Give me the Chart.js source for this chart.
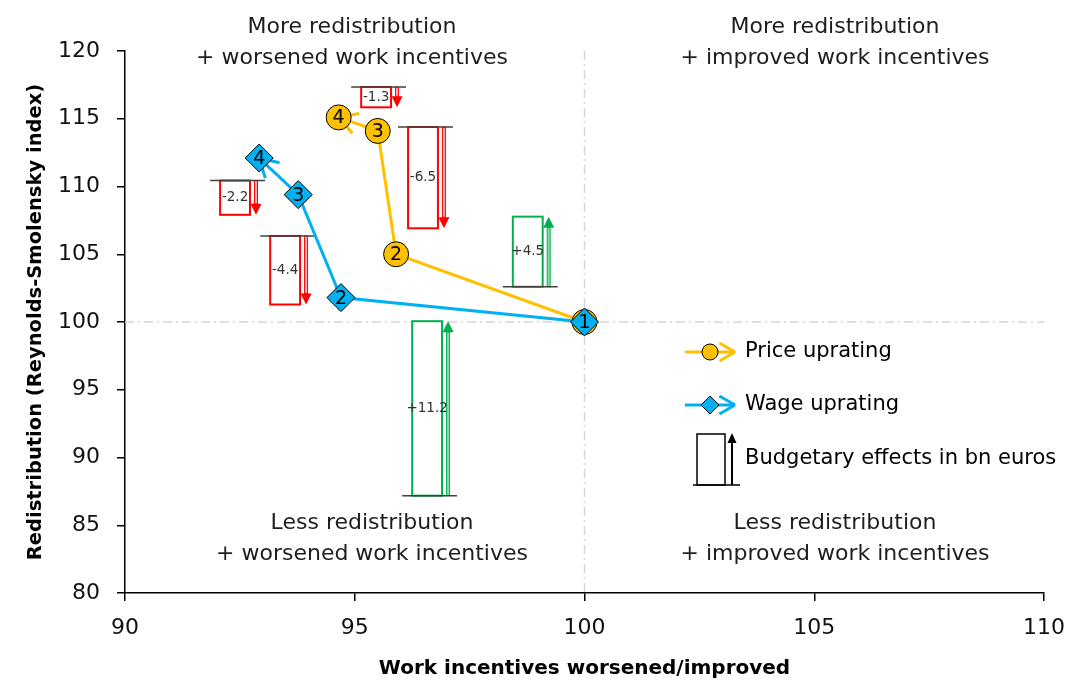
<!DOCTYPE html>
<html>
<head>
<meta charset="utf-8">
<script src="https://cdn.jsdelivr.net/npm/chart.js"></script>
<style>
  body { margin: 0; background: #fff; }
  #caja { width: 1067px; height: 682px; }
</style>
</head>
<body>
<div id="caja"><canvas id="grafico"></canvas></div>
<script>
// steps 1..4 of each uprating path
const stepLabels = ['1', '2', '3', '4'];
const priceX = [100, 95.9, 95.5, 94.65];
const priceY = [100, 105.0, 114.1, 115.1];
const wageX = [100, 94.7, 93.77, 92.92];
const wageY = [100, 101.8, 109.4, 112.1];

// budgetary effects (bn euros), box left edge (x) and base line (y)
const budgetValues = [-1.3, -6.5, -2.2, -4.4, 4.5, 11.2];
const budgetX = [95.14, 96.16, 92.07, 93.16, 98.44, 96.25];
const budgetBase = [117.34, 114.39, 110.44, 106.35, 102.6, 87.18];
const bnToIndex = 1.15;   // index points per bn euros
const boxWidth = 0.65;

const xTicks = [90, 95, 100, 105, 110];
const yTicks = [80, 85, 90, 95, 100, 105, 110, 115, 120];

const quadrantTexts = [
    { x: 352, y: 27, lines: ['More redistribution', '+ worsened work incentives'] },
    { x: 835, y: 27, lines: ['More redistribution', '+ improved work incentives'] },
    { x: 372, y: 523, lines: ['Less redistribution', '+ worsened work incentives'] },
    { x: 835, y: 523, lines: ['Less redistribution', '+ improved work incentives'] }
];

const gold = '#ffc000';
const blue = '#00b0f0';
const fuente = 'DejaVu Sans';

function chevron(ctx, tipX, tipY, backX, backY, largo, color, ancho) {
    const dx = backX - tipX, dy = backY - tipY;
    const len = Math.hypot(dx, dy);
    const ux = dx / len, uy = dy / len;
    const ang = Math.PI / 6;
    ctx.save();
    ctx.strokeStyle = color;
    ctx.lineWidth = ancho;
    ctx.beginPath();
    [ang, -ang].forEach(a => {
        const rx = ux * Math.cos(a) - uy * Math.sin(a);
        const ry = ux * Math.sin(a) + uy * Math.cos(a);
        ctx.moveTo(tipX, tipY);
        ctx.lineTo(tipX + rx * largo, tipY + ry * largo);
    });
    ctx.stroke();
    ctx.restore();
}

function budgetArrow(ctx, ax, base, end, color, light) {
    const dir = Math.sign(end - base);
    const headLen = 11;
    ctx.save();
    ctx.fillStyle = light;
    ctx.strokeStyle = color;
    ctx.lineWidth = 1;
    const shaftEnd = end - dir * headLen;
    ctx.fillRect(ax - 1.5, Math.min(base, shaftEnd), 3, Math.abs(shaftEnd - base));
    ctx.strokeRect(ax - 1.5, Math.min(base, shaftEnd), 3, Math.abs(shaftEnd - base));
    ctx.fillStyle = color;
    ctx.beginPath();
    ctx.moveTo(ax, end);
    ctx.lineTo(ax - 5.5, shaftEnd);
    ctx.lineTo(ax + 5.5, shaftEnd);
    ctx.closePath();
    ctx.fill();
    ctx.restore();
}

const dibujos = {
    id: 'dibujos',
    beforeDatasetsDraw(chart) {
        const { ctx, chartArea, scales: { x, y } } = chart;

        // cruz en 100 / 100
        ctx.save();
        ctx.strokeStyle = '#d6d6d6';
        ctx.lineWidth = 1.5;
        ctx.setLineDash([9, 4, 2, 4]);
        const x100 = x.getPixelForValue(100);
        const y100 = y.getPixelForValue(100);
        ctx.beginPath();
        ctx.moveTo(chartArea.left, y100);
        ctx.lineTo(chartArea.right, y100);
        ctx.moveTo(x100, chartArea.top);
        ctx.lineTo(x100, chartArea.bottom);
        ctx.stroke();
        ctx.restore();

        // cajas de efectos presupuestarios
        budgetValues.forEach((v, i) => {
            const left = x.getPixelForValue(budgetX[i]);
            const right = x.getPixelForValue(budgetX[i] + boxWidth);
            const base = y.getPixelForValue(budgetBase[i]);
            const end = y.getPixelForValue(budgetBase[i] + v * bnToIndex);
            const color = v < 0 ? '#ff0000' : '#00b050';
            const light = v < 0 ? '#ffb0b0' : '#8fd9a8';
            const top = Math.min(base, end);
            const h = Math.abs(end - base);
            ctx.save();
            ctx.fillStyle = '#ffffff';
            ctx.fillRect(left, top, right - left, h);
            ctx.strokeStyle = color;
            ctx.lineWidth = 2;
            ctx.strokeRect(left, top, right - left, h);
            const ax = right + 6;
            budgetArrow(ctx, ax, base, end, color, light);
            ctx.strokeStyle = '#404040';
            ctx.lineWidth = 1.5;
            ctx.beginPath();
            ctx.moveTo(left - 10, base);
            ctx.lineTo(ax + 9, base);
            ctx.stroke();
            ctx.fillStyle = '#333';
            ctx.font = '13.5px ' + fuente;
            ctx.textAlign = 'center';
            ctx.textBaseline = 'middle';
            ctx.fillText((v > 0 ? '+' : '') + v.toFixed(1), (left + right) / 2, top + h / 2);
            ctx.restore();
        });

        // puntas de flecha en el paso 4
        chevron(ctx, x.getPixelForValue(priceX[3]), y.getPixelForValue(priceY[3]),
            x.getPixelForValue(priceX[2]), y.getPixelForValue(priceY[2]), 21, gold, 3);
        chevron(ctx, x.getPixelForValue(wageX[3]), y.getPixelForValue(wageY[3]),
            x.getPixelForValue(wageX[2]), y.getPixelForValue(wageY[2]), 21, blue, 3);
    },
    afterDatasetsDraw(chart) {
        const { ctx, scales: { x, y } } = chart;
        ctx.save();
        ctx.fillStyle = '#000';
        ctx.font = '19px ' + fuente;
        ctx.textAlign = 'center';
        ctx.textBaseline = 'middle';
        stepLabels.forEach((t, i) => {
            ctx.fillText(t, x.getPixelForValue(priceX[i]), y.getPixelForValue(priceY[i]) + 1);
            if (i > 0) ctx.fillText(t, x.getPixelForValue(wageX[i]), y.getPixelForValue(wageY[i]) + 1);
        });
        ctx.restore();
    },
    afterDraw(chart) {
        const { ctx } = chart;
        ctx.save();
        // textos de cuadrantes
        ctx.fillStyle = '#1e1e1e';
        ctx.font = '22px ' + fuente;
        ctx.textAlign = 'center';
        ctx.textBaseline = 'middle';
        quadrantTexts.forEach(q => {
            q.lines.forEach((l, k) => ctx.fillText(l, q.x, q.y + k * 31));
        });

        // leyenda
        ctx.lineWidth = 3;
        ctx.strokeStyle = gold;
        ctx.beginPath(); ctx.moveTo(685, 352); ctx.lineTo(733, 352); ctx.stroke();
        chevron(ctx, 735, 352, 700, 352, 18, gold, 3);
        ctx.fillStyle = gold; ctx.strokeStyle = '#000'; ctx.lineWidth = 1;
        ctx.beginPath(); ctx.arc(710, 352, 8, 0, Math.PI * 2); ctx.fill(); ctx.stroke();

        ctx.lineWidth = 3;
        ctx.strokeStyle = blue;
        ctx.beginPath(); ctx.moveTo(685, 405); ctx.lineTo(733, 405); ctx.stroke();
        chevron(ctx, 735, 405, 700, 405, 18, blue, 3);
        ctx.fillStyle = blue; ctx.strokeStyle = '#000'; ctx.lineWidth = 1;
        ctx.beginPath();
        ctx.moveTo(710, 396); ctx.lineTo(719, 405); ctx.lineTo(710, 414); ctx.lineTo(701, 405);
        ctx.closePath(); ctx.fill(); ctx.stroke();

        ctx.strokeStyle = '#000'; ctx.lineWidth = 1.5;
        ctx.strokeRect(697, 434, 28, 51);
        ctx.beginPath(); ctx.moveTo(693, 485); ctx.lineTo(740, 485); ctx.stroke();
        ctx.lineWidth = 2;
        ctx.beginPath(); ctx.moveTo(732, 485); ctx.lineTo(732, 442); ctx.stroke();
        ctx.fillStyle = '#000';
        ctx.beginPath(); ctx.moveTo(732, 433); ctx.lineTo(727.5, 443); ctx.lineTo(736.5, 443); ctx.closePath(); ctx.fill();

        ctx.fillStyle = '#000';
        ctx.font = '21px ' + fuente;
        ctx.textAlign = 'left';
        ctx.fillText('Price uprating', 745, 352);
        ctx.fillText('Wage uprating', 745, 405);
        ctx.fillText('Budgetary effects in bn euros', 745, 459);
        ctx.restore();
    }
};

const puntos = (xs, ys) => xs.map((v, i) => ({ x: v, y: ys[i] }));

new Chart(document.getElementById('grafico'), {
    type: 'scatter',
    data: {
        datasets: [
            {
                label: 'Wage uprating',
                data: puntos(wageX, wageY),
                showLine: true,
                borderColor: blue,
                borderWidth: 3,
                pointStyle: 'rectRot',
                pointRadius: 14,
                pointBackgroundColor: blue,
                pointBorderColor: '#000',
                pointBorderWidth: 1
            },
            {
                label: 'Price uprating',
                data: puntos(priceX, priceY),
                showLine: true,
                borderColor: gold,
                borderWidth: 3,
                pointStyle: 'circle',
                pointRadius: 12.5,
                pointBackgroundColor: gold,
                pointBorderColor: '#000',
                pointBorderWidth: 1
            }
        ]
    },
    options: {
        responsive: true,
        maintainAspectRatio: false,
        animation: false,
        layout: { padding: { top: 51, right: 23, left: 0, bottom: 0 } },
        plugins: { legend: { display: false }, tooltip: { enabled: false } },
        scales: {
            x: {
                type: 'linear',
                min: 90,
                max: 110,
                afterBuildTicks: (s) => { s.ticks = xTicks.map(v => ({ value: v })); },
                afterFit: (s) => { s.height = 89; s.paddingLeft = 0; s.paddingRight = 0; },
                grid: { drawOnChartArea: false, tickLength: 8, color: '#000', lineWidth: 1.5 },
                border: { color: '#000', width: 1.5 },
                ticks: { color: '#111', font: { family: fuente, size: 22 }, padding: 14 },
                title: {
                    display: true,
                    text: 'Work incentives worsened/improved',
                    color: '#000',
                    font: { family: fuente, size: 20, weight: 'bold' },
                    padding: { top: 0, bottom: 1 }
                }
            },
            y: {
                type: 'linear',
                min: 80,
                max: 120,
                afterBuildTicks: (s) => { s.ticks = yTicks.map(v => ({ value: v })); },
                afterFit: (s) => { s.width = 125; s.paddingTop = 0; s.paddingBottom = 0; },
                grid: { drawOnChartArea: false, tickLength: 8, color: '#000', lineWidth: 1.5 },
                border: { color: '#000', width: 1.5 },
                ticks: { color: '#111', font: { family: fuente, size: 22 }, padding: 17 },
                title: {
                    display: true,
                    text: 'Redistribution (Reynolds-Smolensky index)',
                    color: '#000',
                    font: { family: fuente, size: 19.5, weight: 'bold' },
                    padding: { top: 24, bottom: 0 }
                }
            }
        }
    },
    plugins: [dibujos]
});
</script>
</body>
</html>
